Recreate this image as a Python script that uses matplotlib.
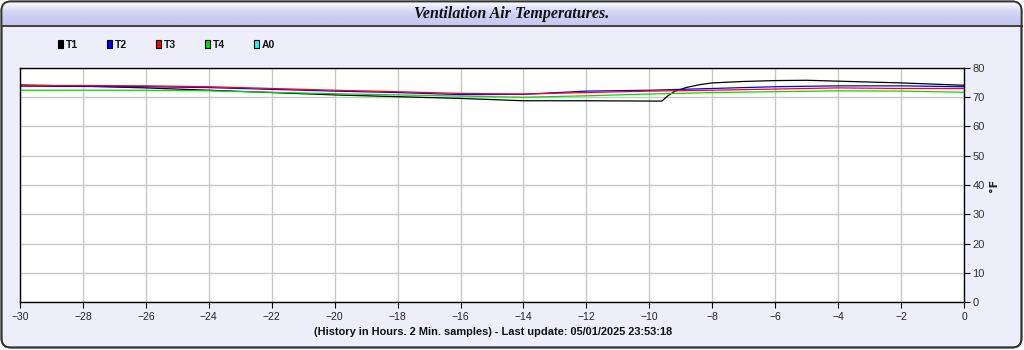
import matplotlib
matplotlib.use("Agg")
import matplotlib.pyplot as plt
import numpy as np
from matplotlib.patches import FancyBboxPatch, Rectangle

# ---- data ----
series_names = ["T1", "T2", "T3", "T4", "A0"]
series_colors = ["#000000", "#0000ff", "#ff0000", "#00dd00", "#00ffff"]

hours = [-30, -28, -26, -24, -22, -20, -18, -16, -14, -12, -10, -8, -6, -4, -2, 0]

t1_hours = [-30, -28, -26, -24, -22, -20, -18, -16, -14, -12, -10, -9.6, -9.4,
            -9.2, -8.8, -8.4, -8, -7, -6, -5, -4, -2, 0]
t1_values = [74.2, 73.8, 73.2, 72.4, 71.6, 70.8, 70.2, 69.6, 68.8, 68.8, 68.7, 68.7,
             70.6, 72.0, 73.4, 74.3, 74.9, 75.4, 75.7, 75.8, 75.5, 74.9, 74.1]
t2_values = [73.8, 73.7, 73.6, 73.3, 72.7, 72.1, 71.6, 70.9, 71.0, 72.1, 72.4, 73.0,
             73.6, 73.9, 73.9, 73.6]
t3_values = [74.0, 74.0, 73.9, 73.6, 73.0, 72.4, 71.9, 71.3, 71.1, 71.6, 72.1, 72.4,
             72.8, 73.2, 73.0, 73.0]
t4_values = [72.4, 72.4, 72.4, 72.2, 71.7, 71.2, 70.8, 70.4, 70.0, 70.5, 71.1, 71.6,
             71.9, 72.2, 72.1, 71.7]
a0_hours = []
a0_values = []

x_ticks = list(range(-30, 1, 2))
y_ticks = list(range(0, 81, 10))
title = "Ventilation Air Temperatures."
caption = "(History in Hours. 2 Min. samples) - Last update: 05/01/2025 23:53:18"
y_label = "°F"

# ---- figure ----
W, H = 1024, 350
fig = plt.figure(figsize=(W / 100, H / 100), dpi=100)
fig.patch.set_facecolor("white")

bg = fig.add_axes([0, 0, 1, 1])
bg.set_xlim(0, W)
bg.set_ylim(H, 0)
bg.axis("off")

panel = FancyBboxPatch((1.5, 1.5), W - 4, H - 4, boxstyle="round,pad=0,rounding_size=9",
                       facecolor="#eeeefb", edgecolor="#333333", linewidth=1.3, zorder=1)
bg.add_patch(panel)

# title bar gradient
grad_y = np.array([0, 3, 6, 10, 14, 18, 22, 25], dtype=float)
grad_c = np.array([
    [0.85, 0.85, 0.95],
    [0.97, 0.97, 1.00],
    [0.92, 0.92, 0.99],
    [0.86, 0.86, 0.97],
    [0.82, 0.82, 0.96],
    [0.80, 0.80, 0.95],
    [0.80, 0.80, 0.95],
    [0.78, 0.78, 0.94],
])
ys = np.linspace(0, 25, 60)
img = np.stack([np.interp(ys, grad_y, grad_c[:, k]) for k in range(3)], axis=-1)
img = img[:, None, :]
im = bg.imshow(img, extent=[0, W, 25, 0], aspect="auto", zorder=2, interpolation="bilinear")
im.set_clip_path(panel)
bg.plot([2, W - 2], [25.5, 25.5], color="#222222", lw=1.2, zorder=3)
bg.add_patch(FancyBboxPatch((1.5, 1.5), W - 4, H - 4, boxstyle="round,pad=0,rounding_size=9",
                            facecolor="none", edgecolor="#333333", linewidth=1.3, zorder=4))

bg.text(512, 13.5, title, ha="center", va="center", family="Liberation Serif",
        style="italic", weight="bold", fontsize=11.5, color="#111111", zorder=5)

# legend
leg_x = [58, 107, 156, 205, 254]
for name, col, lx in zip(series_names, series_colors, leg_x):
    bg.add_patch(Rectangle((lx, 40), 5, 8, facecolor=col, edgecolor="#000000",
                           linewidth=0.8, zorder=5))
    bg.text(lx + 8, 44.5, name, ha="left", va="center", family="Liberation Sans",
            weight="bold", fontsize=7.5, color="#111111", zorder=5)

bg.text(493, 332, caption, ha="center", va="center", family="Liberation Sans",
        weight="bold", fontsize=7.9, color="#111111", zorder=5)

# ---- plot area ----
x0, x1, y0, y1 = 20, 964, 68, 302
ax = fig.add_axes([x0 / W, 1 - y1 / H, (x1 - x0) / W, (y1 - y0) / H])
ax.set_facecolor("white")
ax.set_xlim(-30, 0)
ax.set_ylim(0, 80)
ax.set_xticks(x_ticks)
ax.set_yticks(y_ticks)
ax.grid(True, color="#c8c8c8", linewidth=1.0)
ax.set_axisbelow(True)

all_x = [t1_hours, hours, hours, hours, a0_hours]
all_y = [t1_values, t2_values, t3_values, t4_values, a0_values]
for xs, vs, col in zip(all_x, all_y, series_colors):
    if len(xs):
        ax.plot(xs, vs, color=col, linewidth=0.9)

for s in ax.spines.values():
    s.set_color("#000000")
    s.set_linewidth(1.0)

ax.yaxis.tick_right()
ax.yaxis.set_label_position("right")
ax.tick_params(axis="y", direction="out", length=4, pad=2, labelsize=8,
               labelcolor="#333333", color="#000000", left=False, right=True)
ax.tick_params(axis="x", direction="out", length=4, pad=3, labelsize=7.5,
               labelcolor="#222222", color="#000000")
for lab in ax.get_xticklabels() + ax.get_yticklabels():
    lab.set_family("Liberation Sans")
ax.set_ylabel(y_label, rotation=90, fontsize=8, weight="bold", family="DejaVu Sans",
              labelpad=3, color="#222222")

fig.savefig("out.png", dpi=100, facecolor=fig.get_facecolor())
